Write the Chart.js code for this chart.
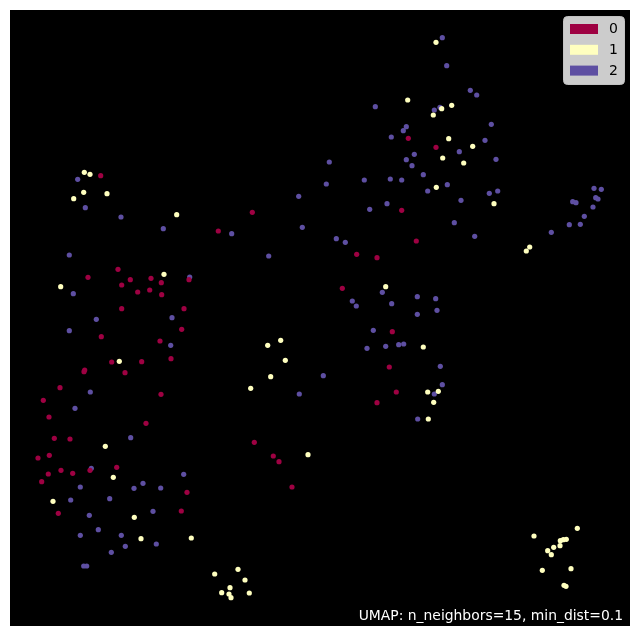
<!DOCTYPE html>
<html>
<head>
<meta charset="utf-8">
<script src="https://cdn.jsdelivr.net/npm/chart.js@4"></script>
<style>
html,body{margin:0;padding:0;background:#fff;}
#wrap{width:640px;height:636px;position:relative;}
</style>
</head>
<body>
<div id="wrap"><canvas id="c" width="640" height="636"></canvas></div>
<script>
// Class labels
const classLabels = ['0', '1', '2'];
const classColors = ['#9e0142', '#ffffbf', '#5e4fa2'];
const annotationText = 'UMAP: n_neighbors=15, min_dist=0.1';

// Embedding coordinates (arbitrary UMAP units, y grows downward)
const class0 = [
[100.7,175.7],[408.3,138.3],[252.3,212.3],[401.7,210.3],[436,147.3],[218.3,231],[416.3,241],[356.7,254.3],
[377,257.7],[342.3,288.3],[392.3,331.7],[389.3,367],[396.3,392],[377,402.7],[118,269.3],[88,277.3],
[189,279.7],[130.3,279.7],[151,278.3],[161.3,282.7],[121.7,285],[137.7,292],[149.7,290],[161.7,294.7],
[121.7,308.7],[184,308.7],[181.7,329.3],[101.3,336.7],[160,341],[171,358.7],[111.7,362],[141.7,361.7],
[84.7,370],[84,371.7],[125,372.7],[60,387.7],[161,394.3],[43.3,400.3],[49,417],[146,423.3],
[54.3,438.3],[70,439],[38,458],[49.3,455.3],[61,470.3],[48.3,474],[72.7,473.3],[90,470.3],
[116.7,467.3],[41.7,481.7],[187,492.3],[58.3,513.3],[181.3,511],[254.3,442.3],[273.3,456],[279,461.7],[292,487]
];
const class1 = [
[84.3,172.3],[90,174.3],[83.7,192.3],[107,193.7],[73.7,198.7],[176.7,214.7],[407.7,100],[436,42.3],
[433.3,115],[441.7,108.7],[451.7,105.3],[448.7,138.7],[472.7,146.3],[442.7,158],[463.7,163],[436.3,187.3],
[494,203.7],[529.7,247],[526.3,251],[438.3,391.3],[433.7,402.3],[428.3,419],[164,274.3],[60.7,286.7],
[119.3,361.3],[385.7,286.7],[280.7,340.3],[267.7,345.3],[423.3,347],[285.3,360.3],[270.7,376.7],[250.7,388.3],
[427.7,392],[105.3,446.3],[113.3,477.3],[53,501.3],[134.3,517.3],[141,538.7],[191.3,538],[214.7,574],
[308,454.7],[238,569.3],[245,580],[230,587.7],[221.7,592.7],[229,594],[231,597.7],[249.3,593],
[577.3,528.3],[534,536],[560.3,540.7],[563.3,539.7],[566.3,539.3],[553.7,547.3],[547.7,550.7],[560,545.7],
[551.3,554.7],[571,568.7],[542.3,570.3],[564,585.3],[566,586.3]
];
const class2 = [
[77.7,179.3],[85.3,207.7],[121,217],[375.3,106.7],[406.3,126.7],[403.3,130.7],[391.3,137],[414.3,154.3],
[406.3,159.7],[412,165.7],[423.3,174.7],[329.3,162],[326.3,184],[364.3,180],[390.3,179],[401.7,180],
[427.7,191],[298.7,196.3],[369.7,209.3],[387,203.7],[442.3,37.7],[446.7,65.7],[470.3,90.3],[476.7,95],
[434.3,110],[440,107.3],[491.3,124.3],[485,140.3],[459.3,151.7],[496,159.3],[447.3,184.7],[461,200.3],
[489.3,193.3],[497.7,191],[594,188.3],[601.3,189.3],[572.7,201.7],[576,202.7],[595.7,197.7],[598,199],
[593,207],[584.3,216.3],[454.3,222.7],[474.7,236.3],[551.3,232.3],[569.3,224.7],[580.3,224.3],[435.7,298.7],
[437,310.3],[440.3,366.3],[442.3,384.7],[434.3,394],[417.7,419],[163.3,228.7],[69.3,255],[189.7,277],
[73.3,293.7],[96.3,319.3],[172,317.7],[69.3,330.7],[170.7,345.3],[90.3,392],[75,408.3],[231.7,233.7],
[302.3,227.3],[336.3,238.7],[345.3,242.3],[268.7,256],[382.3,292.3],[417.3,296.7],[352.3,301],[356.3,306],
[391.7,303.7],[417.3,314.3],[373.3,330.3],[367,348.3],[385.7,346.3],[398.7,344.7],[403.7,344],[323.3,375.7],
[299.3,394],[130.7,437.7],[91.3,468.3],[183.7,474.3],[80.3,487],[134,488.3],[143,483.3],[160.7,488],
[70.7,500],[109.7,498.7],[89.3,515.3],[153,511.3],[98.3,529.7],[80.3,535.3],[121.3,535.3],[125.3,546.3],
[156.3,544],[111.3,552.3],[83.7,566],[86.7,566]
];
const classPoints = [class0, class1, class2];

const bgPlugin = {
  id: 'bg',
  beforeDraw(chart) {
    const ctx = chart.ctx, a = chart.chartArea;
    ctx.save();
    ctx.fillStyle = '#ffffff';
    ctx.fillRect(0, 0, chart.width, chart.height);
    ctx.fillStyle = '#000000';
    ctx.fillRect(a.left, a.top, a.right - a.left, a.bottom - a.top);
    ctx.restore();
  }
};

function roundRect(ctx, x, y, w, h, r) {
  ctx.beginPath();
  ctx.moveTo(x + r, y);
  ctx.lineTo(x + w - r, y);
  ctx.quadraticCurveTo(x + w, y, x + w, y + r);
  ctx.lineTo(x + w, y + h - r);
  ctx.quadraticCurveTo(x + w, y + h, x + w - r, y + h);
  ctx.lineTo(x + r, y + h);
  ctx.quadraticCurveTo(x, y + h, x, y + h - r);
  ctx.lineTo(x, y + r);
  ctx.quadraticCurveTo(x, y, x + r, y);
  ctx.closePath();
}

const overlayPlugin = {
  id: 'overlay',
  afterDraw(chart) {
    const ctx = chart.ctx, a = chart.chartArea;
    ctx.save();
    // legend box (upper right)
    const bx = a.right - 67, by = a.top + 6, bw = 61, bh = 68;
    roundRect(ctx, bx + 0.5, by + 0.5, bw, bh, 4);
    ctx.fillStyle = '#cccccc';
    ctx.fill();
    ctx.strokeStyle = '#c2c2c2';
    ctx.lineWidth = 1;
    ctx.stroke();
    ctx.font = '14px "DejaVu Sans"';
    ctx.textBaseline = 'middle';
    ctx.textAlign = 'left';
    chart.data.datasets.forEach((ds, i) => {
      const ry = by + 8 + i * 20.8;
      ctx.fillStyle = ds.backgroundColor;
      ctx.fillRect(bx + 7, ry, 28, 10);
      ctx.fillStyle = '#000000';
      ctx.fillText(ds.label, bx + 46, ry + 5.5);
    });
    // annotation
    ctx.font = '13.9px "DejaVu Sans"';
    ctx.fillStyle = '#ffffff';
    ctx.textAlign = 'right';
    ctx.textBaseline = 'alphabetic';
    ctx.fillText(annotationText, a.right - 7, a.bottom - 6);
    ctx.restore();
  }
};

const datasets = classLabels.map((lab, i) => ({
  label: lab,
  data: classPoints[i].map(p => ({x: p[0], y: p[1]})),
  backgroundColor: classColors[i],
  borderWidth: 0,
  pointRadius: 2.6,
  pointHoverRadius: 2.6
}));

new Chart(document.getElementById('c'), {
  type: 'scatter',
  data: { datasets },
  options: {
    responsive: false,
    animation: false,
    layout: { padding: { left: 10, right: 10, top: 10, bottom: 10 } },
    scales: {
      x: { type: 'linear', display: false, min: 10, max: 630 },
      y: { type: 'linear', display: false, min: 10, max: 626, reverse: true }
    },
    plugins: {
      legend: { display: false },
      tooltip: { enabled: false }
    }
  },
  plugins: [bgPlugin, overlayPlugin]
});
</script>
</body>
</html>
